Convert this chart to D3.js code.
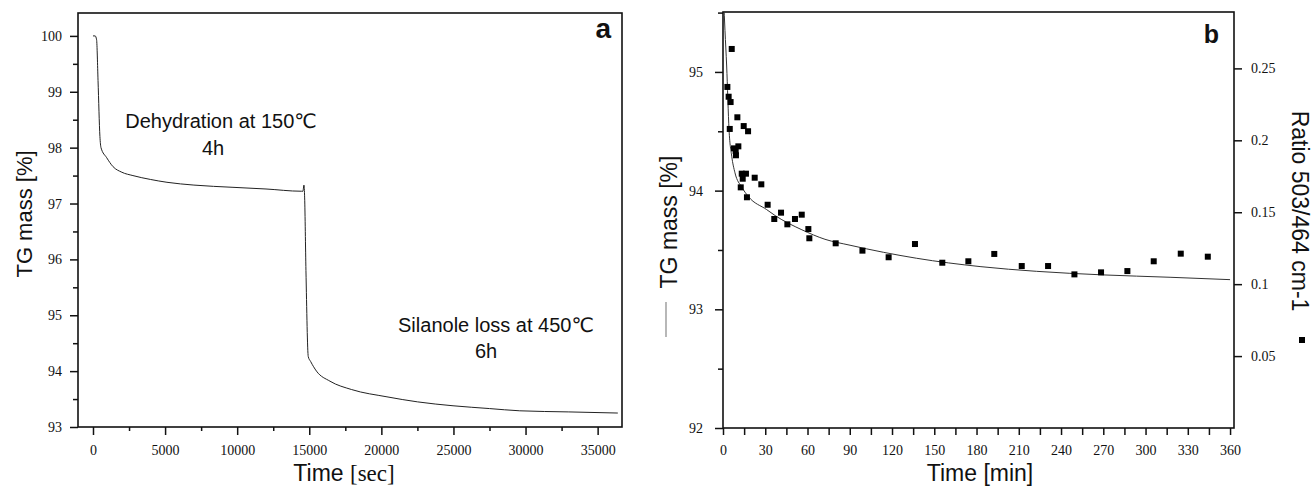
<!DOCTYPE html>
<html>
<head>
<meta charset="utf-8">
<script src="https://cdn.jsdelivr.net/npm/d3@7"></script>
<style>
  body { margin: 0; background: #fff; }
  svg { display: block; }
  .title { font-family: "Liberation Sans", Arial, "DejaVu Sans", sans-serif; fill: #111; }
  .tick text { font-family: "Liberation Serif", "Times New Roman", serif; font-size: 14px; fill: #111; }
  .tick line { stroke: #111; stroke-width: 1.5px; }
  .domain { display: none; }
</style>
</head>
<body>
<div id="chart"></div>
<script>
// panel a: TG mass over time (seconds)
const timeSecA = [0, 150, 250, 350, 480, 555, 950, 1390, 2000, 2770, 4000, 5130, 7000, 9710, 12000,
  14450, 14560, 14630, 14680, 14770, 14930, 15100, 15500, 16435, 17940, 20390, 22500, 24970, 27500, 29600, 33000, 36400];
const massA = [100.0, 100.0, 99.93, 99.2, 98.2, 98.0, 97.82, 97.66, 97.56, 97.5, 97.43, 97.38, 97.33, 97.29, 97.26,
  97.22, 97.22, 97.33, 97.1, 95.8, 94.26, 94.17, 94.0, 93.82, 93.67, 93.54, 93.45, 93.38, 93.33, 93.29, 93.27, 93.25];

// panel b: TG mass fit (minutes)
const timeMinB = [0.5, 1.4, 2.6, 4.3, 6.2, 8.5, 13.3, 18, 31, 37, 56, 72.4, 90.2, 137.5, 182.5, 222.7, 269.8, 317.4, 360];
const massB = [95.6, 95.35, 95.05, 94.51, 94.29, 94.15, 94.03, 93.95, 93.84, 93.79, 93.67, 93.59, 93.54, 93.43, 93.36, 93.32, 93.29, 93.27, 93.25];

// panel b: ratio 503/464 cm-1 (squares)
const ratioTime = [6.2, 3.1, 4.0, 5.4, 10.2, 14.7, 17.8, 4.8, 7.8, 10.9, 9.0, 9.2, 13.3, 16.3, 14.0, 12.6, 17.0, 22.5, 27.2,
  31.7, 41.2, 36.4, 45.7, 51.1, 55.9, 60.6, 61.3, 80.0, 99.0, 117.6, 136.3, 155.7, 174.2, 192.6, 212.1, 230.8, 249.5,
  268.4, 287.1, 305.8, 325.0, 344.2];
const ratioVal = [0.2635, 0.2371, 0.2303, 0.2266, 0.2160, 0.2099, 0.2063, 0.2079, 0.1944, 0.1958, 0.1926, 0.1896, 0.1768,
  0.1768, 0.1733, 0.1673, 0.1604, 0.1740, 0.1694, 0.1552, 0.1497, 0.1453, 0.1416, 0.1453, 0.1483, 0.1383, 0.1319, 0.1284,
  0.1233, 0.1187, 0.1279, 0.1149, 0.1159, 0.1210, 0.1126, 0.1126, 0.1068, 0.1082, 0.1091, 0.1159, 0.1212, 0.1191];

// tick values
const ticksXA = [0, 5000, 10000, 15000, 20000, 25000, 30000, 35000];
const minorXA = [2500, 7500, 12500, 17500, 22500, 27500, 32500];
const ticksYA = [93, 94, 95, 96, 97, 98, 99, 100];
const minorYA = [93.5, 94.5, 95.5, 96.5, 97.5, 98.5, 99.5];
const ticksXB = d3.range(0, 361, 30);
const minorXB = d3.range(15, 361, 30);
const ticksYB = [92, 93, 94, 95];
const minorYB = [92.5, 93.5, 94.5, 95.5];
const ticksRB = [0.05, 0.1, 0.15, 0.2, 0.25];

const serif = '"Liberation Serif", "Times New Roman", serif';
const W = 1312, H = 490;

const svg = d3.select("#chart").append("svg")
  .attr("width", W).attr("height", H);

function addAxis(axis, tx, ty) {
  const g = svg.append("g").attr("transform", `translate(${tx},${ty})`);
  g.call(axis);
  g.attr("font-family", serif).attr("font-size", 14);
  g.selectAll("text").attr("font-family", serif).attr("font-size", 14).attr("fill", "#111");
  g.selectAll(".tick line").attr("stroke", "#111").attr("stroke-width", 1.5);
  return g;
}

// ---------- panel a ----------
const a = { left: 78, right: 622, top: 13, bottom: 427 };
const xA = d3.scaleLinear().domain([-1040, 36690]).range([a.left, a.right]);
const yA = d3.scaleLinear().domain([93, 100.41]).range([a.bottom, a.top]);

addAxis(d3.axisBottom(xA).tickValues(ticksXA).tickSize(8).tickPadding(10).tickFormat(d3.format("d")), 0, a.bottom);
addAxis(d3.axisBottom(xA).tickValues(minorXA).tickSize(4).tickFormat(""), 0, a.bottom);
addAxis(d3.axisLeft(yA).tickValues(ticksYA).tickSize(8).tickPadding(8).tickFormat(d3.format("d")), a.left, 0);
addAxis(d3.axisLeft(yA).tickValues(minorYA).tickSize(5).tickFormat(""), a.left, 0);

svg.append("rect")
  .attr("x", a.left).attr("y", a.top)
  .attr("width", a.right - a.left).attr("height", a.bottom - a.top)
  .attr("fill", "none").attr("stroke", "#111").attr("stroke-width", 1.6);

const lineA = d3.line().x((d, i) => xA(timeSecA[i])).y(d => yA(d)).curve(d3.curveMonotoneX);
svg.append("path").datum(massA)
  .attr("d", lineA)
  .attr("fill", "none").attr("stroke", "#222").attr("stroke-width", 1);

svg.append("text").attr("class", "title").attr("font-size", 20).attr("text-anchor", "middle")
  .attr("x", 221).attr("y", 128).text("Dehydration at 150\u2103");
svg.append("text").attr("class", "title").attr("font-size", 20).attr("text-anchor", "middle")
  .attr("x", 213).attr("y", 155).text("4h");
svg.append("text").attr("class", "title").attr("font-size", 20).attr("text-anchor", "middle")
  .attr("x", 496).attr("y", 332).text("Silanole loss at 450\u2103");
svg.append("text").attr("class", "title").attr("font-size", 20).attr("text-anchor", "middle")
  .attr("x", 486).attr("y", 358).text("6h");

svg.append("text").attr("class", "title").attr("font-size", 28).attr("font-weight", "bold")
  .attr("text-anchor", "end").attr("x", 611).attr("y", 38).text("a");

svg.append("text").attr("class", "title").attr("font-size", 22).attr("text-anchor", "middle")
  .attr("transform", "translate(31.5,214) rotate(-90)").text("TG mass [%]");

const tA = svg.append("text").attr("class", "title").attr("font-size", 23).attr("text-anchor", "middle")
  .attr("x", 344).attr("y", 481);
tA.append("tspan").text("Time ");
tA.append("tspan").attr("font-family", serif).text("[sec]");

// ---------- panel b ----------
const b = { left: 723, right: 1234, top: 12, bottom: 428 };
const xB = d3.scaleLinear().domain([0, 362.8]).range([b.left, b.right]);
const yB = d3.scaleLinear().domain([92, 95.505]).range([b.bottom, b.top]);
const rB = d3.scaleLinear().domain([0, 0.2892]).range([b.bottom, b.top]);

addAxis(d3.axisBottom(xB).tickValues(ticksXB).tickSize(7).tickPadding(10).tickFormat(d3.format("d")), 0, b.bottom);
addAxis(d3.axisBottom(xB).tickValues(minorXB).tickSize(7).tickFormat(""), 0, b.bottom);
addAxis(d3.axisLeft(yB).tickValues(ticksYB).tickSize(8).tickPadding(12).tickFormat(d3.format("d")), b.left, 0);
addAxis(d3.axisLeft(yB).tickValues(minorYB).tickSize(5).tickFormat(""), b.left, 0);
addAxis(d3.axisRight(rB).tickValues(ticksRB).tickSize(8).tickPadding(9).tickFormat(d => String(d)), b.right, 0);

svg.append("rect")
  .attr("x", b.left).attr("y", b.top)
  .attr("width", b.right - b.left).attr("height", b.bottom - b.top)
  .attr("fill", "none").attr("stroke", "#111").attr("stroke-width", 1.6);

svg.append("clipPath").attr("id", "clipB").append("rect")
  .attr("x", b.left).attr("y", b.top)
  .attr("width", b.right - b.left).attr("height", b.bottom - b.top);

const lineB = d3.line().x((d, i) => xB(timeMinB[i])).y(d => yB(d)).curve(d3.curveMonotoneX);
svg.append("path").datum(massB)
  .attr("clip-path", "url(#clipB)")
  .attr("d", lineB)
  .attr("fill", "none").attr("stroke", "#333").attr("stroke-width", 1);

const sq = 6;
svg.append("g").selectAll("rect")
  .data(ratioVal)
  .join("rect")
  .attr("x", (d, i) => xB(ratioTime[i]) - sq / 2)
  .attr("y", d => rB(d) - sq / 2)
  .attr("width", sq).attr("height", sq)
  .attr("fill", "#000");

svg.append("text").attr("class", "title").attr("font-size", 25).attr("font-weight", "bold")
  .attr("text-anchor", "end").attr("x", 1219).attr("y", 43).text("b");

svg.append("text").attr("class", "title").attr("font-size", 23).attr("text-anchor", "middle")
  .attr("x", 980).attr("y", 481).text("Time [min]");

svg.append("text").attr("class", "title").attr("font-size", 23).attr("text-anchor", "middle")
  .attr("transform", "translate(677,222) rotate(-90)").text("TG mass [%]");
svg.append("line")
  .attr("x1", 666).attr("x2", 666).attr("y1", 302).attr("y2", 337)
  .attr("stroke", "#888").attr("stroke-width", 1.2);

svg.append("text").attr("class", "title").attr("font-size", 23).attr("text-anchor", "middle")
  .attr("transform", "translate(1292,211) rotate(90)").text("Ratio 503/464 cm-1");
svg.append("rect")
  .attr("x", 1302 - sq / 2).attr("y", 340 - sq / 2)
  .attr("width", sq).attr("height", sq).attr("fill", "#000");
</script>
</body>
</html>
